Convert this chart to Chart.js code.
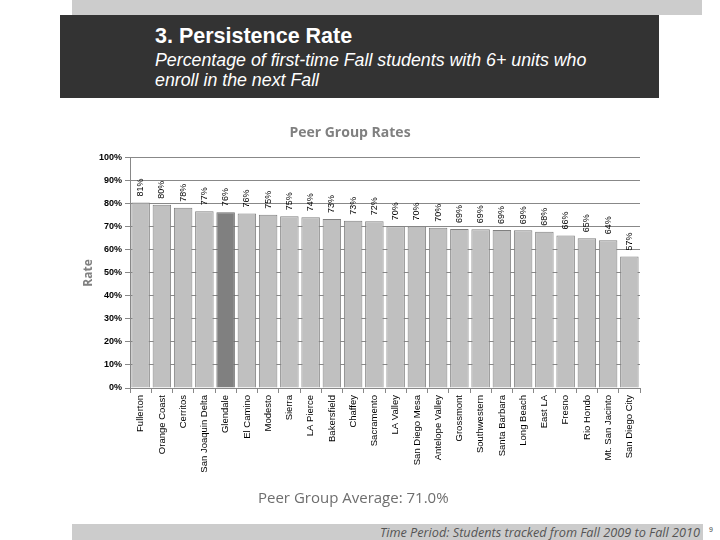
<!DOCTYPE html>
<html>
<head>
<meta charset="utf-8">
<script src="https://cdn.jsdelivr.net/npm/chart.js@4.4.0/dist/chart.umd.min.js"></script>
<style>
  body { margin: 0; width: 720px; height: 540px; background: #fff; position: relative; overflow: hidden; font-family: "Liberation Sans", Arial, sans-serif; }
  .topbar { position: absolute; left: 72px; top: 0; width: 630px; height: 15px; background: #cccccc; }
  .header { position: absolute; left: 60px; top: 15px; width: 599px; height: 83px; background: #333333; color: #fff; }
  .header h1 { position: absolute; left: 95px; top: 9px; margin: 0; font-size: 21.5px; font-weight: bold; }
  .header p { position: absolute; left: 95px; top: 35px; margin: 0; font-size: 17.8px; font-style: italic; line-height: 20px; }
  #wrap { position: absolute; left: 60px; top: 120px; width: 600px; height: 380px; }
  .avg { position: absolute; left: 258px; top: 487px; font-family: "Open Sans", sans-serif; font-size: 15px; color: #6e6e6e; }
  .footer { position: absolute; left: 72px; top: 524px; width: 631px; height: 16px; background: #cccccc; }
  .footer span { position: absolute; right: 3px; top: -1px; font-family: "Open Sans", sans-serif; font-style: italic; font-size: 12.7px; color: #555; white-space: nowrap; }
  .pg { position: absolute; left: 709px; top: 526px; font-size: 7px; color: #444; }
</style>
</head>
<body>
<div class="topbar"></div>
<div class="header">
  <h1>3. Persistence Rate</h1>
  <p>Percentage of first-time Fall students with 6+ units who<br>enroll in the next Fall</p>
</div>
<div id="wrap"><canvas id="chart"></canvas></div>
<div class="avg">Peer Group Average: 71.0%</div>
<div class="footer"><span>Time Period: Students tracked from Fall 2009 to Fall 2010</span></div>
<div class="pg">9</div>
<script>
const colleges = ['Fullerton', 'Orange Coast', 'Cerritos', 'San Joaquin Delta', 'Glendale', 'El Camino',
  'Modesto', 'Sierra', 'LA Pierce', 'Bakersfield', 'Chaffey', 'Sacramento', 'LA Valley', 'San Diego Mesa',
  'Antelope Valley', 'Grossmont', 'Southwestern', 'Santa Barbara', 'Long Beach', 'East LA', 'Fresno',
  'Rio Hondo', 'Mt. San Jacinto', 'San Diego City'];
const rates = [80.6, 79.6, 78.3, 76.8, 76.4, 75.8, 75.3, 74.6, 74.2, 73.4, 72.6, 72.4, 70.3, 70.2,
  69.6, 69.1, 69.0, 68.6, 68.5, 67.9, 66.2, 65.0, 64.2, 57.1];
const highlight = 'Glendale';

const barColors = colleges.map(c => c === highlight ? '#808080' : '#c0c0c0');
const borderColors = colleges.map(c => c === highlight ? '#6a6a6a' : '#808080');

// rotated value labels above each bar
const valueLabels = {
  id: 'valueLabels',
  afterDatasetsDraw(chart) {
    const ctx = chart.ctx;
    const meta = chart.getDatasetMeta(0);
    ctx.save();
    ctx.font = '9px "Liberation Sans", Arial, sans-serif';
    ctx.fillStyle = '#000';
    ctx.textAlign = 'left';
    ctx.textBaseline = 'middle';
    meta.data.forEach((bar, i) => {
      ctx.save();
      ctx.translate(bar.x, bar.y - 6);
      ctx.rotate(-Math.PI / 2);
      ctx.fillText(Math.round(rates[i]) + '%', 0, 0);
      ctx.restore();
    });
    ctx.restore();
  }
};

new Chart(document.getElementById('chart'), {
  type: 'bar',
  data: {
    labels: colleges,
    datasets: [{
      data: rates,
      backgroundColor: barColors,
      borderColor: borderColors,
      borderWidth: 1,
      barPercentage: 0.87,
      categoryPercentage: 1
    }]
  },
  options: {
    responsive: true,
    maintainAspectRatio: false,
    animation: false,
    layout: { padding: { right: 20, left: 0 } },
    plugins: {
      legend: { display: false },
      tooltip: { enabled: false },
      title: {
        display: true,
        text: 'Peer Group Rates',
        color: '#808080',
        font: { family: '"Open Sans", sans-serif', size: 14, weight: 'bold' },
        padding: { top: 5, bottom: 16 }
      }
    },
    scales: {
      x: {
        afterFit(scale) { scale.height = 112; },
        grid: { offset: true, drawOnChartArea: false, tickLength: 5, color: '#888' },
        border: { color: '#888' },
        ticks: {
          autoSkip: false, maxRotation: 90, minRotation: 90, padding: 2,
          color: '#000', font: { family: '"Liberation Sans", Arial, sans-serif', size: 9.5 }
        }
      },
      y: {
        min: 0, max: 100,
        afterFit(scale) { scale.width = 70; },
        title: {
          display: true, text: 'Rate', color: '#808080',
          font: { family: '"Open Sans", sans-serif', size: 12, weight: 'bold' },
          padding: { top: 21 }
        },
        grid: { color: '#888', tickLength: 5 },
        border: { color: '#888' },
        ticks: {
          stepSize: 10, padding: 3, color: '#000',
          font: { family: '"Liberation Sans", Arial, sans-serif', size: 9, weight: 'bold' },
          callback: v => v + '%'
        }
      }
    }
  },
  plugins: [valueLabels]
});
</script>
</body>
</html>
